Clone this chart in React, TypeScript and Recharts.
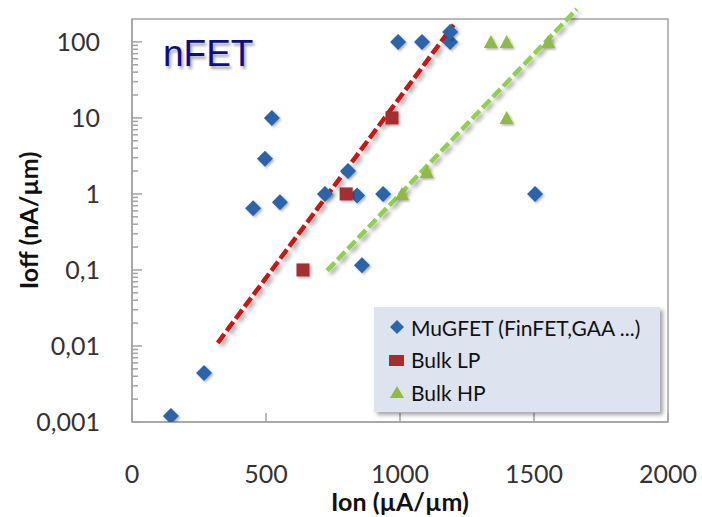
import React from 'react';
import { ScatterChart, Scatter, XAxis, YAxis, ReferenceLine, ReferenceArea, Legend } from 'recharts';

// Ion (µA/µm) / Ioff (nA/µm) per device family
const mugfetIon = [145, 269, 452, 496, 522, 552, 720, 806, 840, 858, 937, 993, 1082, 1187, 1187, 1504];
const mugfetIoff = [0.0012, 0.0044, 0.65, 2.9, 10, 0.78, 1.0, 2.0, 0.95, 0.115, 1.0, 100, 100, 100, 135, 1.0];

const bulkLpIon = [638, 799, 970];
const bulkLpIoff = [0.1, 1.0, 10];

const bulkHpIon = [1007, 1100, 1339, 1398, 1398, 1553];
const bulkHpIoff = [1.0, 1.95, 100, 100, 10, 100];

// dashed trend lines (start, end)
const trendLpIon = [320, 1200];
const trendLpIoff = [0.011, 167];
const trendHpIon = [728, 1660];
const trendHpIoff = [0.098, 270];

const xTicks = [0, 500, 1000, 1500, 2000];
const yMajorTicks = [0.001, 0.01, 0.1, 1, 10, 100];
const yMinorTicks = yMajorTicks.slice(0, 5).flatMap((d) => [2, 3, 4, 5, 6, 7, 8, 9].map((k) => k * d));

const seriesNames = ['MuGFET (FinFET,GAA ...)', 'Bulk LP', 'Bulk HP'];

const zip = (xs: number[], ys: number[]) => xs.map((x, i) => ({ x, y: ys[i] }));

const AXIS = '#a3a3a3';
const BLUE = '#2b65ab';
const RED = '#a62d2d';
const GREEN = '#8dbb45';

const Diamond = ({ cx, cy }: any) => (
    <path d={`M${cx},${cy - 8}L${cx + 8},${cy}L${cx},${cy + 8}L${cx - 8},${cy}Z`} fill={BLUE} filter="url(#mkShadow)" />
);
const Square = ({ cx, cy }: any) => (
    <rect x={cx - 6.5} y={cy - 6.5} width={13} height={13} fill={RED} filter="url(#mkShadow)" />
);
const Triangle = ({ cx, cy }: any) => (
    <path d={`M${cx},${cy - 7}L${cx + 7},${cy + 6}L${cx - 7},${cy + 6}Z`} fill={GREEN} filter="url(#mkShadow)" />
);

const legendIcons = [
    <path key="d" d="M9,2L16,9L9,16L2,9Z" fill={BLUE} />,
    <rect key="s" x={1} y={4} width={15} height={11} fill={RED} />,
    <path key="t" d="M9,3L16,15L2,15Z" fill={GREEN} />,
];

const fmt = (v: number) => String(v).replace('.', ',');

const YTick = ({ x, y, payload }: any) => {
    const major = yMajorTicks.includes(payload.value);
    return (
        <g>
            <line x1={x} x2={x + (major ? 10 : 6)} y1={y} y2={y} stroke={AXIS} strokeWidth={1.5} />
            {major && (
                <text x={x - 32} y={y} dy="0.36em" textAnchor="end" fill="#333" fontSize={25}>
                    {fmt(payload.value)}
                </text>
            )}
        </g>
    );
};

const XTick = ({ x, y, payload }: any) => (
    <g>
        <line x1={x} x2={x} y1={y} y2={y - 9} stroke={AXIS} strokeWidth={1.5} />
        <text x={x} y={y + 52} dy="0.36em" textAnchor="middle" fill="#333" fontSize={25}>
            {payload.value}
        </text>
    </g>
);

const renderLegend = ({ payload }: any) => {
    const items = [...(payload || [])].sort((a: any, b: any) => seriesNames.indexOf(a.value) - seriesNames.indexOf(b.value));
    return (
        <div style={{ background: '#dde4f0', boxShadow: '3px 3px 4px rgba(0,0,0,0.35)', padding: '4px 0 3px 14px' }}>
            {items.map((entry: any) => (
                <div key={entry.value} style={{ display: 'flex', alignItems: 'center', height: 32.5, fontSize: 21, color: '#111' }}>
                    <svg width={18} height={18}>{legendIcons[seriesNames.indexOf(entry.value)]}</svg>
                    <span style={{ marginLeft: 5 }}>{entry.value}</span>
                </div>
            ))}
        </div>
    );
};

const App: React.FC = () => {
    return (
        <div style={{ position: 'absolute', left: 0, top: 0, width: 702, height: 517, background: '#fff', fontFamily: 'Lato, sans-serif' }}>
            <ScatterChart width={702} height={517} margin={{ top: 19, right: 34, left: 0, bottom: 0 }}>
                <defs>
                    <filter id="lnShadow" x="-20%" y="-20%" width="140%" height="140%">
                        <feDropShadow dx={3} dy={3} stdDeviation={2} floodColor="#000" floodOpacity={0.35} />
                    </filter>
                    <filter id="mkShadow" x="-50%" y="-50%" width="200%" height="200%">
                        <feDropShadow dx={1.5} dy={1.5} stdDeviation={1.2} floodColor="#000" floodOpacity={0.3} />
                    </filter>
                </defs>
                <XAxis
                    type="number"
                    dataKey="x"
                    domain={[0, 2000]}
                    ticks={xTicks}
                    height={95}
                    axisLine={{ stroke: AXIS, strokeWidth: 1.5 }}
                    tickLine={false}
                    tickSize={0}
                    tickMargin={0}
                    tick={<XTick />}
                    interval={0}
                    label={{ value: 'Ion (µA/µm)', position: 'insideBottom', offset: 6, fill: '#111', fontSize: 25, fontWeight: 700 }}
                />
                <YAxis
                    type="number"
                    dataKey="y"
                    scale="log"
                    domain={[0.001, 200]}
                    allowDataOverflow
                    ticks={[...yMajorTicks, ...yMinorTicks]}
                    width={132}
                    axisLine={{ stroke: AXIS, strokeWidth: 1.5 }}
                    tickLine={false}
                    tickSize={0}
                    tickMargin={0}
                    tick={<YTick />}
                    interval={0}
                    label={{ value: 'Ioff (nA/µm)', angle: -90, position: 'insideLeft', offset: 29, fill: '#111', fontSize: 25, fontWeight: 700, style: { textAnchor: 'middle' } }}
                />
                <ReferenceArea x1={0} x2={2000} y1={0.001} y2={200} fill="none" stroke={AXIS} strokeWidth={1.5} />
                <Legend
                    layout="vertical"
                    align="center"
                    verticalAlign="middle"
                    content={renderLegend}
                    wrapperStyle={{ left: 374, top: 307, width: 286 }}
                />
                <Scatter name={seriesNames[0]} data={zip(mugfetIon, mugfetIoff)} fill={BLUE} shape={<Diamond />} isAnimationActive={false} />
                <Scatter name={seriesNames[1]} data={zip(bulkLpIon, bulkLpIoff)} fill={RED} shape={<Square />} isAnimationActive={false} />
                <Scatter name={seriesNames[2]} data={zip(bulkHpIon, bulkHpIoff)} fill={GREEN} shape={<Triangle />} isAnimationActive={false} />
                <ReferenceLine
                    segment={zip(trendLpIon, trendLpIoff)}
                    ifOverflow="visible"
                    stroke="#cc1212"
                    strokeWidth={4.5}
                    strokeDasharray="11 4"
                    filter="url(#lnShadow)"
                />
                <ReferenceLine
                    segment={zip(trendHpIon, trendHpIoff)}
                    ifOverflow="visible"
                    stroke="#8fd04e"
                    strokeWidth={4.5}
                    strokeDasharray="11 4"
                    filter="url(#lnShadow)"
                />
            </ScatterChart>
            <div
                style={{
                    position: 'absolute',
                    left: 163,
                    top: 35,
                    fontFamily: '"Liberation Sans", Arial, sans-serif',
                    fontSize: 37,
                    lineHeight: 1,
                    color: '#0d0d8c',
                    textShadow: '2px 3px 3px rgba(0,0,0,0.35)',
                }}
            >
                nFET
            </div>
        </div>
    );
};

export default App;
